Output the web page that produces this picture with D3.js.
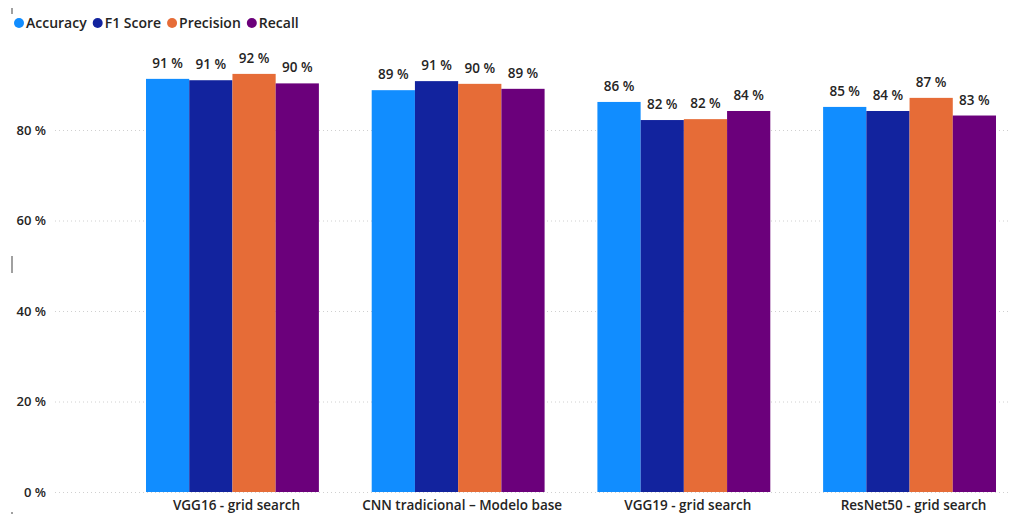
<!DOCTYPE html>
<html>
<head>
<meta charset="utf-8">
<script src="https://cdn.jsdelivr.net/npm/d3@7"></script>
<style>
  body { margin: 0; background: #fff; }
  text { font-family: "Open Sans", "Noto Sans", sans-serif; }
</style>
</head>
<body>
<div id="chart"></div>
<script>
const WIDTH = 1010;
const HEIGHT = 517;

const models = ["VGG16 - grid search", "CNN tradicional – Modelo base", "VGG19 - grid search", "ResNet50 - grid search"];
const metrics = ["Accuracy", "F1 Score", "Precision", "Recall"];
const colors = ["#118DFF", "#12239E", "#E66C37", "#6B007B"];

const accuracy = [91.3, 88.8, 86.2, 85.1];
const f1Score = [91.0, 90.8, 82.2, 84.2];
const precision = [92.4, 90.2, 82.4, 87.1];
const recall = [90.3, 89.1, 84.2, 83.2];
const yTicks = [0, 20, 40, 60, 80];

const seriesValues = [accuracy, f1Score, precision, recall];

const data = models.map((m, i) => ({
  model: m,
  values: metrics.map((k, j) => ({ metric: k, value: seriesValues[j][i] })),
}));

const svg = d3
  .select("#chart")
  .append("svg")
  .attr("width", WIDTH)
  .attr("height", HEIGHT);

const x0 = d3.scaleBand().domain(models).range([146, 996]).paddingInner(0.234).paddingOuter(0);
const x1 = d3.scaleBand().domain(metrics).range([0, x0.bandwidth()]);
const y = d3.scaleLinear().domain([0, 100]).range([492, 39.5]);

// grid lines + y labels
svg
  .append("g")
  .attr("transform", "translate(55, 0)")
  .call(d3.axisLeft(y).tickValues(yTicks).tickSize(-955).tickFormat((d) => d + " %"))
  .call((g) => {
    g.select(".domain").remove();
    g.selectAll(".tick line")
      .attr("stroke", "#d0d0d0")
      .attr("stroke-dasharray", "1,3");
    g.selectAll(".tick text")
      .attr("x", -9)
      .attr("fill", "#252423")
      .attr("font-size", "13px")
      .attr("font-weight", 600);
  });

// x labels
svg
  .append("g")
  .attr("transform", "translate(4, 492)")
  .call(d3.axisBottom(x0).tickSize(0))
  .call((g) => {
    g.select(".domain").remove();
    g.selectAll(".tick text")
      .attr("y", 8)
      .attr("dy", "0.71em")
      .attr("fill", "#252423")
      .attr("font-size", "13.5px")
      .attr("font-weight", 600);
  });

const groups = svg
  .selectAll(".group")
  .data(data)
  .enter()
  .append("g")
  .attr("class", "group")
  .attr("transform", (d) => `translate(${x0(d.model)}, 0)`);

groups
  .selectAll("rect")
  .data((d) => d.values)
  .enter()
  .append("rect")
  .attr("x", (d) => x1(d.metric))
  .attr("y", (d) => y(d.value))
  .attr("width", x1.bandwidth())
  .attr("height", (d) => y(0) - y(d.value))
  .style("fill", (d, i) => colors[i]);

groups
  .selectAll(".lbl")
  .data((d) => d.values)
  .enter()
  .append("text")
  .attr("class", "lbl")
  .attr("x", (d) => x1(d.metric) + x1.bandwidth() / 2)
  .attr("y", (d) => y(d.value) - 11)
  .attr("text-anchor", "middle")
  .attr("font-size", "13.5px")
  .attr("font-weight", 600)
  .attr("fill", "#252423")
  .text((d) => Math.round(d.value) + " %");

// legend
const legend = svg.append("g").attr("transform", "translate(0, 23)");
let lx = 19;
metrics.forEach((m, i) => {
  legend.append("circle").attr("cx", lx).attr("cy", 0).attr("r", 5).attr("fill", colors[i]);
  const t = legend
    .append("text")
    .attr("x", lx + 7)
    .attr("y", 0)
    .attr("dy", "0.35em")
    .attr("font-size", "14px")
    .attr("font-weight", 600)
    .attr("fill", "#252423")
    .text(m);
  lx += 7 + t.node().getComputedTextLength() + 11;
});

// small handle marks
svg.append("rect").attr("x", 11).attr("y", 8).attr("width", 2).attr("height", 6).attr("fill", "#a0a0a0");
svg.append("rect").attr("x", 11).attr("y", 256).attr("width", 2).attr("height", 17).attr("fill", "#a0a0a0");
svg.append("rect").attr("x", 11).attr("y", 512).attr("width", 2).attr("height", 2).attr("fill", "#a0a0a0");
</script>
</body>
</html>
